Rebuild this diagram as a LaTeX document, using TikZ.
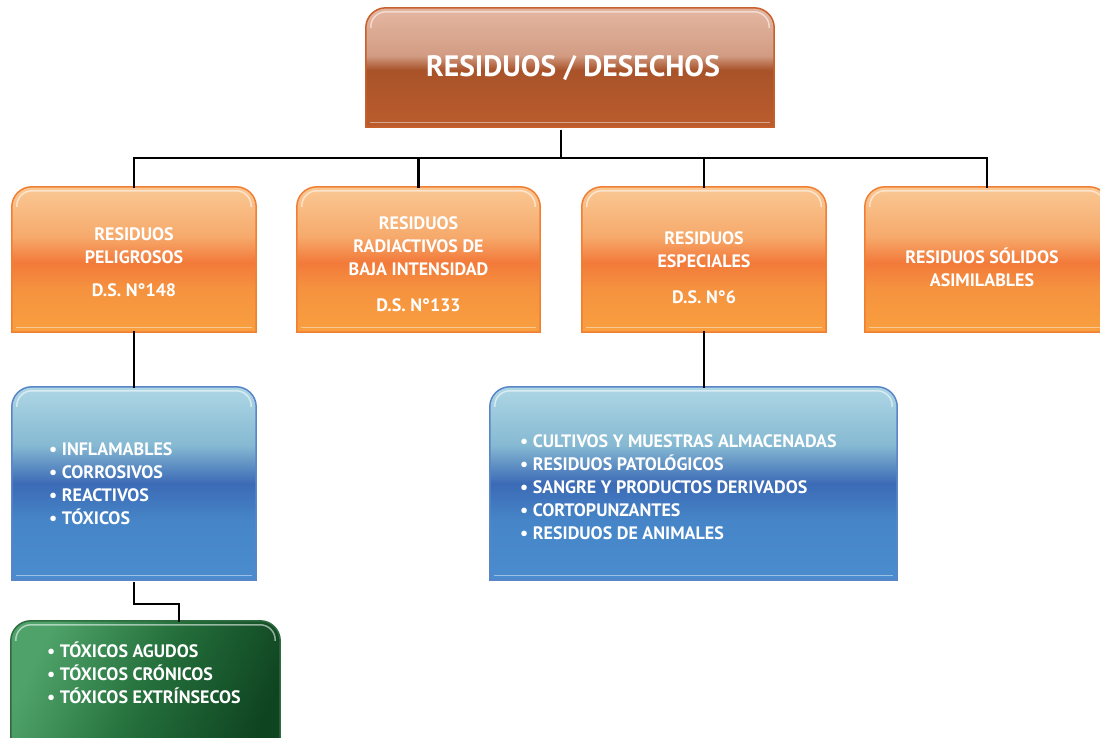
\documentclass[tikz,border=0pt]{standalone}
\usepackage{fontspec}
\setmainfont{PT Sans}
\usetikzlibrary{calc}
\definecolor{tA}{HTML}{E2B39D}
\definecolor{tB}{HTML}{D29C83}
\definecolor{tC}{HTML}{A9532A}
\definecolor{tD}{HTML}{BB5C2D}
\definecolor{oA}{HTML}{FAC894}
\definecolor{oB}{HTML}{F6AA6C}
\definecolor{oC}{HTML}{F27A3A}
\definecolor{oD}{HTML}{F5923F}
\definecolor{oE}{HTML}{F9A03F}
\definecolor{bA}{HTML}{AED7E5}
\definecolor{bB}{HTML}{86B9D2}
\definecolor{bC}{HTML}{3C6BB6}
\definecolor{bD}{HTML}{4686C8}
\definecolor{bE}{HTML}{4A8CCE}
\definecolor{gA}{HTML}{4FA36A}
\definecolor{gB}{HTML}{246F3B}
\definecolor{gC}{HTML}{0F4421}
\definecolor{topline}{HTML}{C8602C}
\definecolor{orline}{HTML}{F07F34}
\definecolor{blline}{HTML}{5A85C8}
\definecolor{grline}{HTML}{2F6B3F}
\pgfdeclareverticalshading{topsh}{100bp}{color(0bp)=(tD); color(25bp)=(tD); color(49bp)=(tC); color(55bp)=(tB); color(72bp)=(tA); color(100bp)=(tA)}
\pgfdeclareverticalshading{orsh}{100bp}{color(0bp)=(oE); color(25bp)=(oE); color(40bp)=(oD); color(49bp)=(oC); color(58bp)=(oB); color(75bp)=(oA); color(100bp)=(oA)}
\pgfdeclareverticalshading{blsh}{100bp}{color(0bp)=(bE); color(25bp)=(bE); color(40bp)=(bD); color(50bp)=(bC); color(60bp)=(bB); color(75bp)=(bA); color(100bp)=(bA)}
\pgfdeclarehorizontalshading{grsh}{100bp}{color(0bp)=(gA); color(25bp)=(gA); color(50bp)=(gB); color(75bp)=(gC); color(100bp)=(gC)}
\newcommand\glossbox[4]{%
  \shadedraw[shading=#2, shading angle=#4, draw=#3, line width=1.5pt]
    (#1.south west) [rounded corners=20pt] -- (#1.north west) -- (#1.north east) [sharp corners] -- (#1.south east) -- cycle;
  \draw[white, opacity=.45, line width=1.2pt] ($(#1.south west)+(4,-5)$) -- ($(#1.south east)+(-4,-5)$);
  \draw[white, opacity=.55, line width=1.5pt] ($(#1.north west)+(5,20)$) [rounded corners=15pt] -- ($(#1.north west)+(5,4)$) -- ($(#1.north east)+(-5,4)$) [sharp corners] -- ($(#1.north east)+(-5,20)$);
}
\tikzset{
  boxn/.style={rectangle, draw=none, inner sep=0pt},
  lbl/.style={text=white, font=\bfseries\fontsize{18}{23}\selectfont, align=center, inner sep=0pt},
  lst/.style={text=white, font=\bfseries\fontsize{18}{23}\selectfont, align=left, inner sep=0pt, anchor=west},
  conn/.style={draw=black, line width=2.8pt}
}
\begin{document}
\begin{tikzpicture}[x=1pt,y=-1pt]
\useasboundingbox (0,0) rectangle (1100,737);
\clip (0,0) rectangle (1100,737);
% nodes
\node[boxn, minimum width=408pt, minimum height=119pt] (top) at (570,67.5) {};
\node[boxn, minimum width=244pt, minimum height=145pt] (rp) at (134,259.5) {};
\node[boxn, minimum width=243pt, minimum height=145pt] (rr) at (418.5,259.5) {};
\node[boxn, minimum width=244pt, minimum height=145pt] (re) at (704,259.5) {};
\node[boxn, minimum width=244pt, minimum height=145pt] (rs) at (987,259.5) {};
\node[boxn, minimum width=244pt, minimum height=193pt] (b1) at (134,483.5) {};
\node[boxn, minimum width=407pt, minimum height=193pt] (b2) at (693.5,483.5) {};
\node[boxn, minimum width=269pt, minimum height=150pt] (g) at (145.5,696) {};
% shapes
\glossbox{top}{topsh}{topline}{0}
\glossbox{rp}{orsh}{orline}{0}
\glossbox{rr}{orsh}{orline}{0}
\glossbox{re}{orsh}{orline}{0}
\glossbox{rs}{orsh}{orline}{0}
\glossbox{b1}{blsh}{blline}{0}
\glossbox{b2}{blsh}{blline}{0}
\glossbox{g}{grsh}{grline}{-25}
% connectors
\coordinate (j) at (561,158);
\coordinate (gk) at (179,604);
\draw[conn] ($(top.south -| j)+(0,3)$) -- (j);
\draw[conn] ($(rp.north)+(0,1)$) |- (j) -| ($(rs.north)+(0,1)$);
\draw[conn] ($(rr.north)+(0,1)$) -- (rr.north |- j);
\draw[conn] ($(re.north)+(0,1)$) -- (re.north |- j);
\draw[conn] ($(rp.south)+(0,-1)$) -- ($(b1.north)+(0,1)$);
\draw[conn] ($(re.south)+(0,-1)$) -- ($(re.south |- b2.north)+(0,1)$);
\draw[conn] ($(b1.south)+(0,2)$) |- (gk) -- ($(gk |- g.north)+(0,1)$);
% texts
\node[text=white, font=\bfseries\fontsize{29.5}{34}\selectfont, inner sep=0pt] (tt) at (573,68) {RESIDUOS / DESECHOS};
\node[lbl] (t1) at (134,262) {RESIDUOS\\PELIGROSOS\\[10pt]D.S. N°148};
\node[lbl] (t2) at (418.5,264) {RESIDUOS\\RADIACTIVOS DE\\BAJA INTENSIDAD\\[13pt]D.S. N°133};
\node[lbl] (t3) at (704,268) {RESIDUOS\\ESPECIALES\\[13pt]D.S. N°6};
\node[lbl] (t4) at (982,267) {RESIDUOS SÓLIDOS\\ASIMILABLES};
\node[lst] (l1) at (49,484) {• INFLAMABLES\\• CORROSIVOS\\• REACTIVOS\\• TÓXICOS};
\node[lst] (l2) at (520,487) {• CULTIVOS Y MUESTRAS ALMACENADAS\\• RESIDUOS PATOLÓGICOS\\• SANGRE Y PRODUCTOS DERIVADOS\\• CORTOPUNZANTES\\• RESIDUOS DE ANIMALES};
\node[lst] (l3) at (47,673) {• TÓXICOS AGUDOS\\• TÓXICOS CRÓNICOS\\• TÓXICOS EXTRÍNSECOS};
\end{tikzpicture}
\end{document}
